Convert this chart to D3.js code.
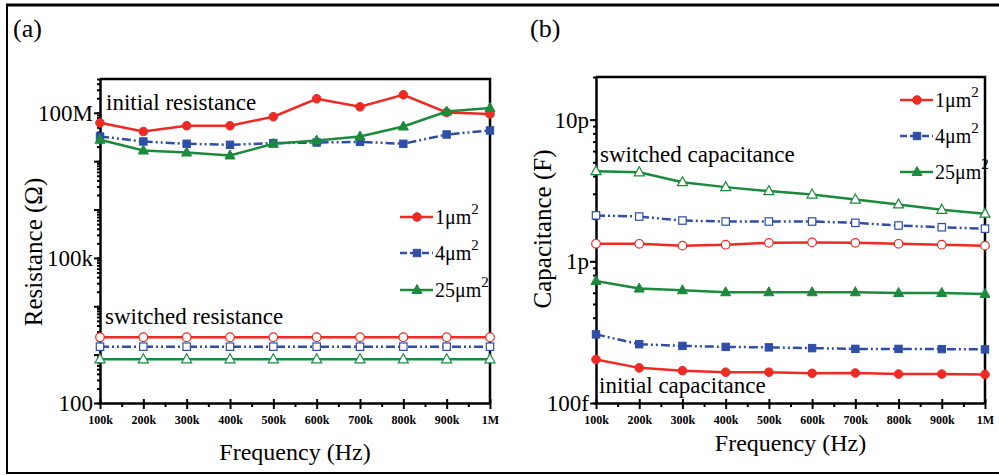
<!DOCTYPE html>
<html><head><meta charset="utf-8"><script src="https://cdn.jsdelivr.net/npm/d3@7"></script></head>
<body style="margin:0">
<svg></svg>
<script>
let width = 999
let height = 475
let serif = 'Liberation Serif'

// frequency points (Hz)
let freqs = [100e3, 200e3, 300e3, 400e3, 500e3, 600e3, 700e3, 800e3, 900e3, 1e6]
let freqTicks = ['100k', '200k', '300k', '400k', '500k', '600k', '700k', '800k', '900k', '1M']

// panel (a) resistance, ohm
let resInitial1 = [6.2e7, 4.1e7, 5.4e7, 5.4e7, 8.3e7, 1.95e8, 1.33e8, 2.36e8, 1.02e8, 9.5e7]
let resInitial4 = [3.24e7, 2.55e7, 2.29e7, 2.18e7, 2.36e7, 2.43e7, 2.51e7, 2.29e7, 3.56e7, 4.31e7]
let resInitial25 = [2.77e7, 1.66e7, 1.51e7, 1.31e7, 2.29e7, 2.67e7, 3.24e7, 5.21e7, 1.06e8, 1.25e8]
let resSwitched1 = [2290, 2290, 2290, 2290, 2290, 2290, 2290, 2290, 2290, 2290]
let resSwitched4 = [1460, 1460, 1460, 1460, 1460, 1460, 1460, 1460, 1460, 1460]
let resSwitched25 = [800, 800, 800, 800, 800, 800, 800, 800, 800, 800]
let resTicks = [1e2, 1e5, 1e8]
let resTickLabels = ['100', '100k', '100M']

// panel (b) capacitance, farad
let capSwitched1 = [1.33e-12, 1.33e-12, 1.29e-12, 1.31e-12, 1.35e-12, 1.36e-12, 1.35e-12, 1.33e-12, 1.31e-12, 1.29e-12]
let capSwitched4 = [2.11e-12, 2.07e-12, 1.94e-12, 1.91e-12, 1.91e-12, 1.91e-12, 1.87e-12, 1.79e-12, 1.74e-12, 1.70e-12]
let capSwitched25 = [4.33e-12, 4.25e-12, 3.62e-12, 3.34e-12, 3.13e-12, 2.96e-12, 2.73e-12, 2.52e-12, 2.31e-12, 2.17e-12]
let capInitial1 = [2.03e-13, 1.77e-13, 1.69e-13, 1.65e-13, 1.65e-13, 1.62e-13, 1.63e-13, 1.60e-13, 1.60e-13, 1.59e-13]
let capInitial4 = [3.05e-13, 2.60e-13, 2.53e-13, 2.49e-13, 2.47e-13, 2.44e-13, 2.41e-13, 2.41e-13, 2.40e-13, 2.39e-13]
let capInitial25 = [7.27e-13, 6.42e-13, 6.25e-13, 6.05e-13, 6.05e-13, 6.05e-13, 6.05e-13, 5.98e-13, 5.98e-13, 5.89e-13]
let capTicks = [1e-13, 1e-12, 1e-11]
let capTickLabels = ['100f', '1p', '10p']

let legendNames = ['1μm', '4μm', '25μm']

let red = '#ee2a24'
let blue = '#2f4ea6'
let green = '#1b8a3c'
let dashDot = '9,3,2,3,2,3'

let svg = d3.select('svg').attr('width', width).attr('height', height)

// outer frame of the figure
svg.append('line').attr('x1', 6).attr('x2', width).attr('y1', 5).attr('y2', 5)
   .attr('stroke', '#000').attr('stroke-width', 3)
svg.append('line').attr('x1', 7).attr('x2', 7).attr('y1', 4).attr('y2', 474)
   .attr('stroke', '#000').attr('stroke-width', 2)
svg.append('line').attr('x1', 6).attr('x2', width).attr('y1', 473).attr('y2', 473)
   .attr('stroke', '#000').attr('stroke-width', 2)

let minorLogTicks = (lo, hi) => {
    let out = []
    for (let e = Math.floor(Math.log10(lo)); e <= Math.ceil(Math.log10(hi)); e++) {
        for (let m = 1; m < 10; m++) {
            let v = m * Math.pow(10, e)
            if (v >= lo * 0.999 && v <= hi * 1.001) out.push(v)
        }
    }
    return out
}

let label = (sel, size) => sel.attr('font-family', serif).style('font-family', serif)
                               .attr('font-size', size).attr('fill', '#000')

let drawPanel = (p) => {
    let g = svg.append('g')
    let xScale = d3.scaleLinear().domain([100e3, 1e6]).range([p.left, p.right])
    let yScale = d3.scaleLog().domain(p.yDomain).range([p.bottom, p.top])

    // x axis: minor ticks
    let xMinor = d3.range(150e3, 1e6, 100e3)
    g.append('g')
     .attr('transform', 'translate(0,' + p.bottom + ')')
     .call(d3.axisBottom(xScale).tickValues(xMinor).tickSize(4).tickFormat(''))
     .call(a => a.select('.domain').remove())
     .selectAll('line').attr('stroke-width', 2)

    // x axis: major ticks
    let xAxis = g.append('g')
     .attr('transform', 'translate(0,' + p.bottom + ')')
     .call(d3.axisBottom(xScale).tickValues(freqs).tickSize(6).tickSizeOuter(0)
           .tickPadding(6).tickFormat((d, i) => freqTicks[i]))
    xAxis.attr('font-family', serif)
    xAxis.selectAll('line').attr('y1', -4).attr('stroke-width', 2)
    xAxis.select('.domain').attr('stroke-width', 2.5)
    xAxis.selectAll('text').call(label, 12).attr('font-weight', 'bold')

    // y axis: minor ticks
    g.append('g')
     .attr('transform', 'translate(' + p.left + ',0)')
     .call(d3.axisLeft(yScale).tickValues(minorLogTicks(p.yDomain[0], p.yDomain[1])).tickSize(3).tickFormat(''))
     .call(a => a.select('.domain').remove())
     .selectAll('line').attr('stroke-width', 2)

    // y axis: decades
    let decades = minorLogTicks(p.yDomain[0], p.yDomain[1]).filter(v => Math.abs(Math.log10(v) - Math.round(Math.log10(v))) < 1e-6)
    let yAxis = g.append('g')
     .attr('transform', 'translate(' + p.left + ',0)')
     .call(d3.axisLeft(yScale).tickValues(decades).tickSize(6).tickSizeOuter(0).tickPadding(1)
           .tickFormat(d => {
               let i = p.yTicks.findIndex(t => Math.abs(Math.log10(t) - Math.log10(d)) < 1e-6)
               return i >= 0 ? p.yTickLabels[i] : ''
           }))
    yAxis.attr('font-family', serif)
    yAxis.selectAll('line').attr('stroke-width', 2)
    yAxis.select('.domain').attr('stroke-width', 2.5)
    yAxis.selectAll('text').call(label, 23)

    // top and right frame
    g.append('path')
     .attr('d', 'M' + p.left + ',' + p.top + 'H' + p.right + 'V' + p.bottom)
     .attr('fill', 'none').attr('stroke', '#000').attr('stroke-width', 2.5)

    let line = d3.line().x((d, i) => xScale(freqs[i])).y(d => yScale(d))

    p.series.forEach(s => {
        g.append('path')
         .datum(s.values)
         .attr('d', line)
         .attr('fill', 'none')
         .attr('stroke', s.color)
         .attr('stroke-width', 2.5)
         .attr('stroke-dasharray', s.dash || null)
        drawMarkers(g, s.values.map((v, i) => [xScale(freqs[i]), yScale(v)]), s.shape, s.color, s.open)
    })

    // legend
    p.series.slice(0, 3).forEach((s, i) => {
        let y = p.legendY[i]
        g.append('line').attr('x1', p.legendX).attr('x2', p.legendX + 33)
         .attr('y1', y).attr('y2', y)
         .attr('stroke', s.color).attr('stroke-width', 2.5)
         .attr('stroke-dasharray', s.dash ? '7,3,9,3' : null)
        drawMarkers(g, [[p.legendX + 17, y]], s.shape, s.color, false)
        let t = g.append('text').attr('x', p.legendX + 35).attr('y', y + 7).call(label, 20)
        t.append('tspan').text(legendNames[i])
        t.append('tspan').attr('dy', -10).attr('font-size', 15).text('2')
    })

    p.notes.forEach(n => {
        g.append('text').attr('x', n.x).attr('y', n.y).call(label, 23).text(n.text)
    })

    g.append('text')
     .attr('transform', 'translate(' + p.yTitleX + ',' + p.yTitleY + ') rotate(-90)')
     .attr('text-anchor', 'middle').call(label, 25)
     .text(p.yTitle)
    g.append('text')
     .attr('x', (p.left + p.right) / 2).attr('y', p.xTitleY)
     .attr('text-anchor', 'middle').call(label, 24)
     .text('Frequency (Hz)')

    g.append('text').attr('x', p.tagX).attr('y', 37).call(label, 26).text(p.tag)
}

let drawMarkers = (g, pts, shape, color, open) => {
    let fill = open ? '#fff' : color
    let sw = open ? 1.2 : 1
    if (shape === 'circle') {
        g.selectAll(null).data(pts).enter().append('circle')
         .attr('cx', d => d[0]).attr('cy', d => d[1]).attr('r', 4.3)
         .attr('fill', fill).attr('stroke', color).attr('stroke-width', sw)
    } else if (shape === 'square') {
        g.selectAll(null).data(pts).enter().append('rect')
         .attr('x', d => d[0] - 3.7).attr('y', d => d[1] - 3.7).attr('width', 7.4).attr('height', 7.4)
         .attr('fill', fill).attr('stroke', color).attr('stroke-width', sw)
    } else {
        g.selectAll(null).data(pts).enter().append('path')
         .attr('d', d => 'M' + d[0] + ',' + (d[1] - 5.5) + 'L' + (d[0] + 5) + ',' + (d[1] + 3.5) + 'L' + (d[0] - 5) + ',' + (d[1] + 3.5) + 'Z')
         .attr('fill', fill).attr('stroke', color).attr('stroke-width', sw)
    }
}

drawPanel({
    tag: '(a)', tagX: 13,
    left: 100, right: 490, top: 79, bottom: 403,
    yDomain: [100, 5e8], yTicks: resTicks, yTickLabels: resTickLabels,
    yTitle: 'Resistance (Ω)', yTitleX: 42, yTitleY: 252, xTitleY: 460,
    legendX: 400, legendY: [217, 253, 290],
    notes: [{ text: 'initial resistance', x: 106, y: 110 }, { text: 'switched resistance', x: 105, y: 324 }],
    series: [
        { values: resInitial1, color: red, shape: 'circle' },
        { values: resInitial4, color: blue, shape: 'square', dash: dashDot },
        { values: resInitial25, color: green, shape: 'triangle' },
        { values: resSwitched1, color: red, shape: 'circle', open: true },
        { values: resSwitched4, color: blue, shape: 'square', dash: dashDot, open: true },
        { values: resSwitched25, color: green, shape: 'triangle', open: true }
    ]
})

drawPanel({
    tag: '(b)', tagX: 530,
    left: 596, right: 985, top: 77, bottom: 403,
    yDomain: [1e-13, 2e-11], yTicks: capTicks, yTickLabels: capTickLabels,
    yTitle: 'Capacitance (F)', yTitleX: 551, yTitleY: 229, xTitleY: 451,
    legendX: 900, legendY: [100, 136, 172],
    notes: [{ text: 'switched capacitance', x: 600, y: 162 }, { text: 'initial capacitance', x: 599, y: 393 }],
    series: [
        { values: capInitial1, color: red, shape: 'circle' },
        { values: capInitial4, color: blue, shape: 'square', dash: dashDot },
        { values: capInitial25, color: green, shape: 'triangle' },
        { values: capSwitched1, color: red, shape: 'circle', open: true },
        { values: capSwitched4, color: blue, shape: 'square', dash: dashDot, open: true },
        { values: capSwitched25, color: green, shape: 'triangle', open: true }
    ]
})
</script>
</body>
</html>
